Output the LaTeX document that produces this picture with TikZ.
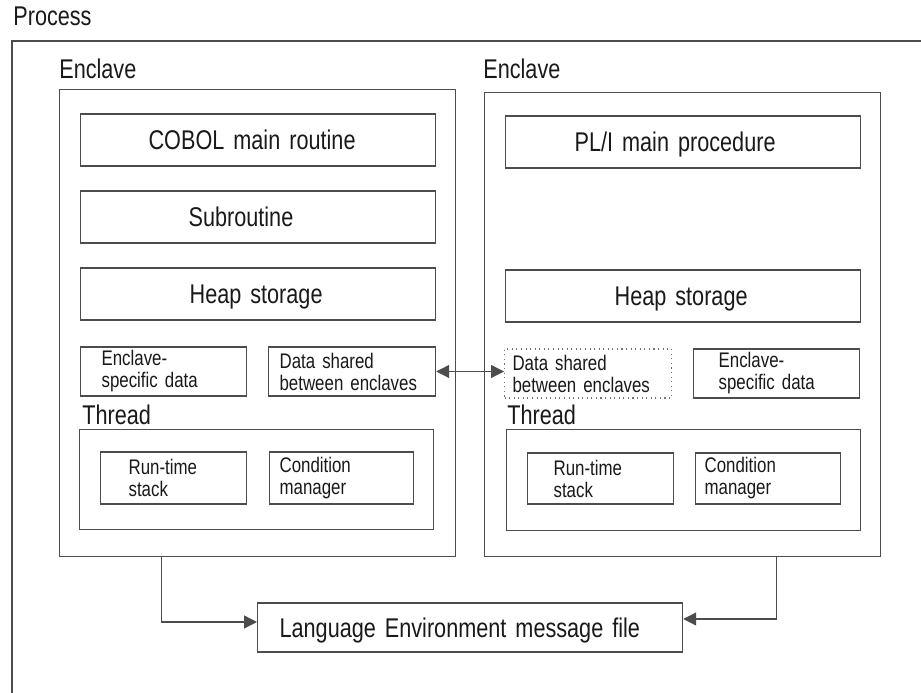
\documentclass[tikz,border=0pt]{standalone}
\usepackage{fontspec}
\setmainfont{Liberation Sans}[FakeStretch=0.8,WordSpace=0.6]
\usepackage{tikz}
\usetikzlibrary{arrows.meta}
\usetikzlibrary{calc}
\hyphenpenalty=10000

\tikzset{
  line/.style={draw=black!70,line width=0.7pt},
  tag/.style={anchor=base west,inner sep=0pt,text=black!90},
  cell/.style 2 args={line,anchor=west,inner xsep=#1,inner ysep=0pt,text width=#2,align=left,text=black!90},
  one/.style={text height=11pt,text depth=0pt},
  small/.style={font=\fontsize{12}{12.5}\selectfont},
  link/.style={line,-{Triangle[length=0.26cm,width=0.26cm]}},
}

\begin{document}
\begin{tikzpicture}[font=\fontsize{15.4}{12}\selectfont]
\useasboundingbox (0,0) rectangle (18.42,13.86);

\draw[line] (18.42,13.04) -- (0.24,13.04) -- (0.24,0);
\node[tag] (proc) at (0.26,13.34) {Process};

\foreach \x/\s in {1.18/L,9.66/R}
  \node[tag] (lab\s) at (\x,12.28) {Enclave};
\foreach \x/\s in {1.64/L,10.14/R}
  \node[tag] (thr\s) at (\x,5.36) {Thread};

\node[line,anchor=north west,minimum width=7.92cm,minimum height=9.34cm] (encL) at (1.18,12.08) {};
\node[line,anchor=north west,minimum width=7.92cm,minimum height=9.28cm] (encR) at (9.68,12.02) {};

\node[cell={1.36cm}{4.38cm},one,minimum height=1.04cm] (cobol) at (1.60,11.06) {COBOL main routine};
\node[cell={2.16cm}{2.78cm},one,minimum height=1.04cm] (sub) at (1.60,9.52) {Subroutine};
\node[cell={2.18cm}{2.74cm},one,minimum height=1.04cm] (heapL) at (1.60,7.98) {Heap storage};
\node[cell={1.38cm}{4.34cm},one,minimum height=1.04cm] (pli) at (10.10,11.02) {PL/I main procedure};
\node[cell={2.18cm}{2.74cm},one,minimum height=1.04cm] (heapR) at (10.10,7.94) {Heap storage};

\node[cell={0.42cm}{2.48cm},small,minimum height=0.98cm] (esL) at (1.60,6.43) {Enclave-\\specific~data};
\node[cell={0.22cm}{2.90cm},small,minimum height=0.98cm] (dsL) at (5.36,6.43) {Data shared\\between~enclaves};
\node[cell={0.16cm}{3.02cm},small,minimum height=0.98cm,draw=black!55,line width=0.6pt,dotted] (dsR) at (10.08,6.39) {Data shared\\between~enclaves};
\node[cell={0.50cm}{2.32cm},small,minimum height=0.98cm] (esR) at (13.86,6.39) {Enclave-\\specific~data};

\node[line,anchor=north west,minimum width=7.08cm,minimum height=2.00cm] (tbL) at (1.58,5.28) {};
\node[line,anchor=north west,minimum width=7.08cm,minimum height=2.02cm] (tbR) at (10.12,5.28) {};

\node[cell={0.56cm}{1.80cm},small,minimum height=1.04cm] (rtL) at (2.00,4.30) {Run-time\\stack};
\node[cell={0.20cm}{2.48cm},small,minimum height=1.04cm] (cmL) at (5.38,4.30) {Condition\\manager};
\node[cell={0.52cm}{1.88cm},small,minimum height=1.02cm] (rtR) at (10.54,4.29) {Run-time\\stack};
\node[cell={0.18cm}{2.54cm},small,minimum height=1.02cm] (cmR) at (13.90,4.29) {Condition\\manager};

\node[cell={0.44cm}{7.62cm},one,minimum height=0.98cm] (msg) at (5.14,1.31) {Language Environment message file};

\draw[link,{Triangle[length=0.26cm,width=0.26cm]}-{Triangle[length=0.26cm,width=0.26cm]}] (dsL.east) -- (dsL.east -| dsR.west);
\draw[link] ([xshift=-1.92cm]encL.south) |- ([yshift=0.11cm]msg.west);
\draw[link] ([xshift=1.88cm]encR.south) |- ([yshift=0.17cm]msg.east);
\end{tikzpicture}
\end{document}
